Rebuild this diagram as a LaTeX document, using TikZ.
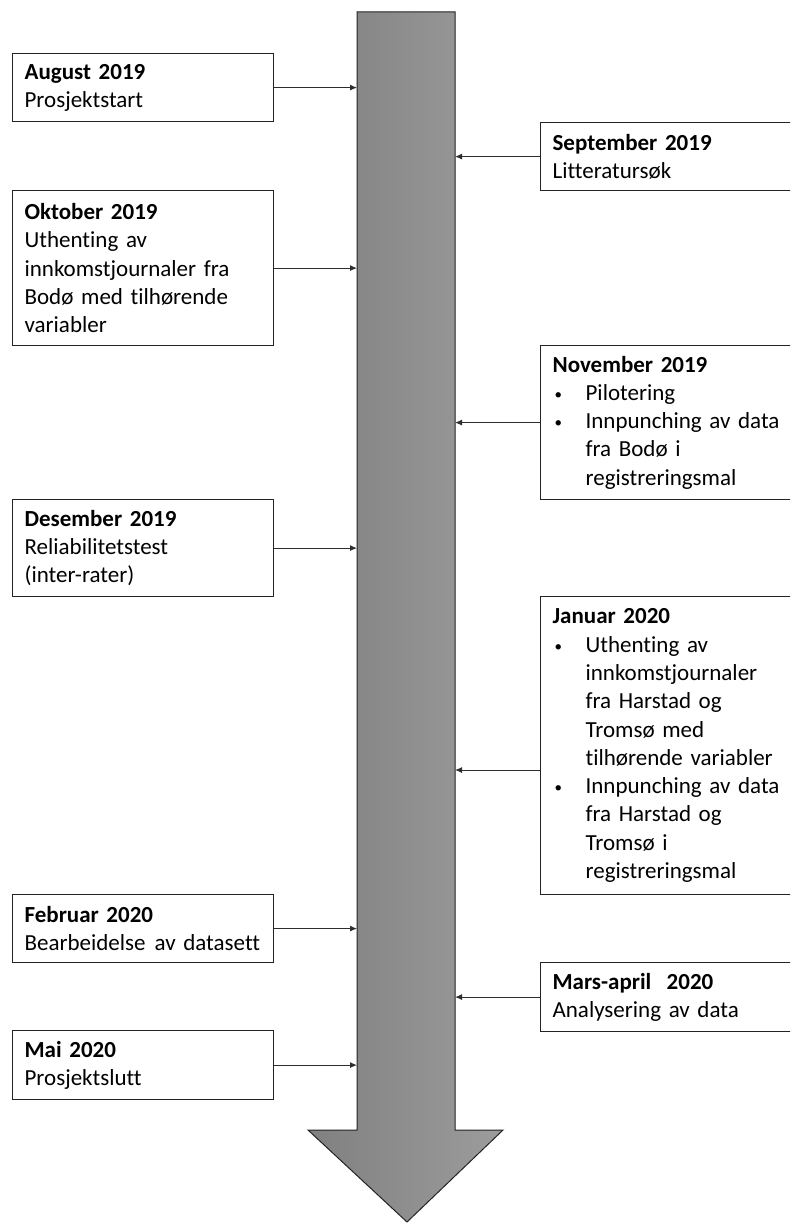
\documentclass[tikz,border=0pt]{standalone}
\usepackage{fontspec}
\setmainfont{Carlito}[Ligatures=NoCommon]
\usetikzlibrary{arrows.meta}
\definecolor{shaftL}{RGB}{128,128,128}
\definecolor{shaftR}{RGB}{156,156,156}
\definecolor{edgec}{RGB}{35,35,35}
\definecolor{connc}{RGB}{45,45,45}
\newcommand{\bul}{\makebox[33pt][l]{\hspace{2pt}{\fontsize{15}{15}\selectfont\raisebox{1pt}{\textbullet}}}}
\newcommand{\ind}{\hspace*{33pt}}
\tikzset{
  boxbase/.style={draw=edgec, line width=1.2pt, fill=white, anchor=north west,
    inner xsep=12pt, inner ysep=0pt, align=left,
    font=\fontsize{23}{28.3}\selectfont},
  lbox/.style={boxbase, text width=237pt, minimum width=261pt},
  rbox/.style={boxbase, text width=260pt, minimum width=284pt},
  conn/.style={draw=connc, line width=1pt, -{Latex[length=7pt,width=6pt]}},
  shaftstyle/.style={draw=edgec, line width=1pt, left color=shaftL, right color=shaftR}
}
\begin{document}
\begin{tikzpicture}[x=1pt,y=-1pt]
\clip (0,0) rectangle (790,1223);
\fill[white] (0,0) rectangle (790,1223);
% big arrow
\draw[shaftstyle] (357,12) -- (455,12) -- (455,1130) -- (503,1130) -- (407,1222)
  -- (308,1130) -- (357,1130) -- cycle;
\coordinate (shL) at (357,0);
\coordinate (shR) at (455,0);
% left boxes
\node[lbox, minimum height=68pt] (aug) at (12,53)
  {\textbf{August 2019}\\Prosjektstart};
\node[lbox, minimum height=155pt] (okt) at (12,190)
  {\textbf{Oktober 2019}\\Uthenting av\\innkomstjournaler fra\\Bodø med tilhørende\\variabler};
\node[lbox, minimum height=97pt] (des) at (12,499)
  {\textbf{Desember 2019}\\Reliabilitetstest\\(inter-rater)};
\node[lbox, minimum height=68pt] (feb) at (12,894)
  {\textbf{Februar 2020}\\\mbox{Bearbeidelse\hspace{9pt}av datasett}};
\node[lbox, minimum height=69pt] (mai) at (12,1030)
  {\textbf{Mai 2020}\\Prosjektslutt};
% right boxes
\node[rbox, minimum height=68pt] (sep) at (540,122)
  {\textbf{September 2019}\\Litteratursøk};
\node[rbox, minimum height=154pt] (nov) at (540,345)
  {\textbf{November 2019}\\\bul Pilotering\\\bul Innpunching av data\\\ind fra Bodø i\\\ind registreringsmal};
\node[rbox, minimum height=298pt] (jan) at (540,596)
  {\textbf{Januar 2020}\\\bul Uthenting av\\\ind innkomstjournaler\\\ind fra Harstad og\\\ind Tromsø med\\\ind tilhørende variabler\\\bul Innpunching av data\\\ind fra Harstad og\\\ind Tromsø i\\\ind registreringsmal};
\node[rbox, minimum height=69pt] (mar) at (540,962)
  {\textbf{Mars-april\ \ 2020}\\Analysering av data};
% connectors
\draw[conn] (aug.east) -- (aug.east -| shL);
\draw[conn] (okt.east) -- (okt.east -| shL);
\draw[conn] (des.east) -- (des.east -| shL);
\draw[conn] (feb.east) -- (feb.east -| shL);
\draw[conn] (mai.east) -- (mai.east -| shL);
\draw[conn] (sep.west) -- (sep.west -| shR);
\draw[conn] (nov.west) -- (nov.west -| shR);
\coordinate (janarr) at (455,770);
\draw[conn] (jan.west |- janarr) -- (janarr);
\draw[conn] (mar.west) -- (mar.west -| shR);
\end{tikzpicture}
\end{document}
